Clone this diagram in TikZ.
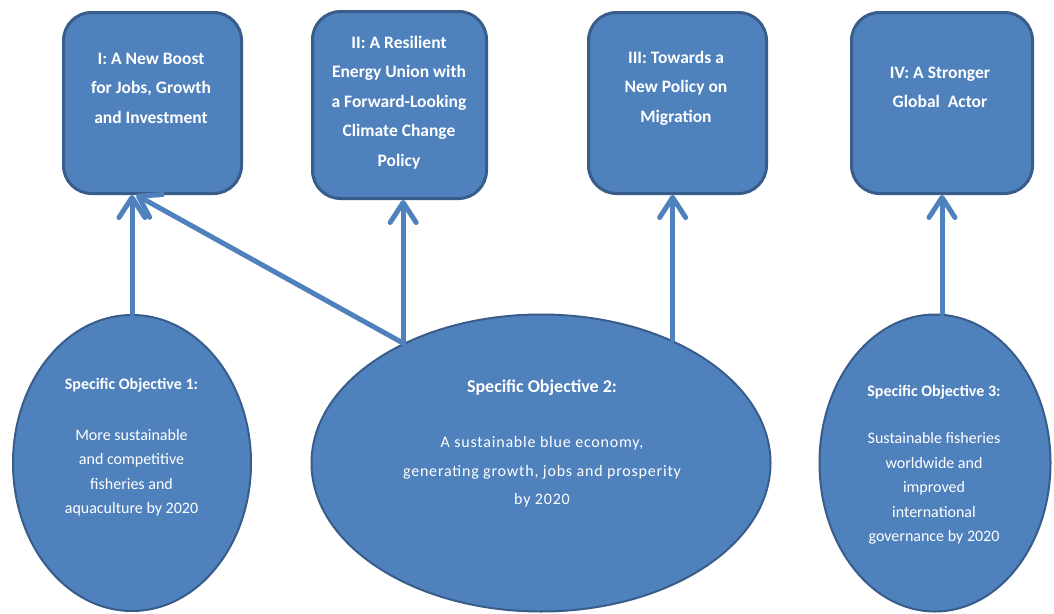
\documentclass[tikz,border=0pt]{standalone}
\usepackage{fontspec}
\setmainfont{Carlito}
\newfontfamily\spacedfont[LetterSpace=5]{Carlito}
\usetikzlibrary{arrows.meta,shapes.geometric}
\definecolor{boxblue}{HTML}{4F81BD}
\definecolor{edgeblue}{HTML}{385D8A}
\definecolor{arrowblue}{HTML}{4F81BD}
\begin{document}
\begin{tikzpicture}[x=1pt,y=-1pt,
  pillar/.style={draw=edgeblue, line width=3pt, fill=boxblue, rounded corners=28pt, inner sep=0pt},
  objective/.style={ellipse, draw=edgeblue, line width=2pt, fill=boxblue, inner sep=0pt},
  pillartext/.style={text=white, align=center, font=\bfseries\fontsize{17.5pt}{29.5pt}\selectfont},
  objtext/.style={text=white, align=center, font=\fontsize{16pt}{24.5pt}\selectfont},
  arr/.style={draw=arrowblue, line width=5pt, line cap=round,
    -{Straight Barb[length=20pt,width=26pt,round]}}]
\useasboundingbox (0,0) rectangle (1054,613);
\fill[white] (0,0) rectangle (1054,613);

% pillar boxes
\node[pillar, minimum width=178pt, minimum height=181pt] (b1) at (152.5,103) {};
\node[pillar, minimum width=174pt, minimum height=187pt] (b2) at (399.5,105) {};
\node[pillar, minimum width=178pt, minimum height=181pt] (b3) at (677.5,103) {};
\node[pillar, minimum width=181pt, minimum height=181pt] (b4) at (942,103) {};

\node[pillartext] (t1) at (151,88) {I: A New Boost\\for Jobs, Growth\\and Investment};
\node[pillartext] (t2) at (399,102.5) {II: A Resilient\\Energy Union with\\a Forward-Looking\\Climate Change\\Policy};
\node[pillartext] (t3) at (676,88) {III: Towards a\\New Policy on\\Migration};
\node[pillartext] (t4) at (940,87.5) {IV: A Stronger\\Global\ \ Actor};

% objective ellipses
\node[objective, minimum width=238pt, minimum height=296pt] (e1) at (132,463) {};
\node[objective, minimum width=459pt, minimum height=297pt] (e2) at (541,463) {};
\node[objective, minimum width=231pt, minimum height=297pt] (e3) at (935,463) {};

\node[objtext] (o1) at (131.5,447.5) {\textbf{Specific Objective 1:}\\[26pt]More sustainable\\and competitive\\fisheries and\\aquaculture by 2020};
\node[objtext, font=\fontsize{16pt}{28.5pt}\selectfont] (o2) at (542,443.5) {\fontsize{18pt}{28.5pt}\selectfont\textbf{Specific Objective 2:}\\[27pt]{\spacedfont A sustainable blue economy,}\\{\spacedfont generating growth, jobs and prosperity}\\{\spacedfont by 2020}};
\node[objtext] (o3) at (934,464.5) {\textbf{Specific Objective 3:}\\[23pt]Sustainable fisheries\\worldwide and\\improved\\international\\governance by 2020};

% connectors
\coordinate (s1) at (e1.north);
\coordinate (s2) at (e2.139);
\coordinate (s3) at (e2.43);
\coordinate (s4) at (e3.north -| b4.south);
\draw[arr] (s1) -- (s1 |- b1.south);
\draw[arr] (s2) -- (b1.260);
\draw[arr] (s2) -- (s2 |- b2.south);
\draw[arr] (s3) -- (s3 |- b3.south);
\draw[arr] (s4) -- (b4.south);
\end{tikzpicture}
\end{document}
